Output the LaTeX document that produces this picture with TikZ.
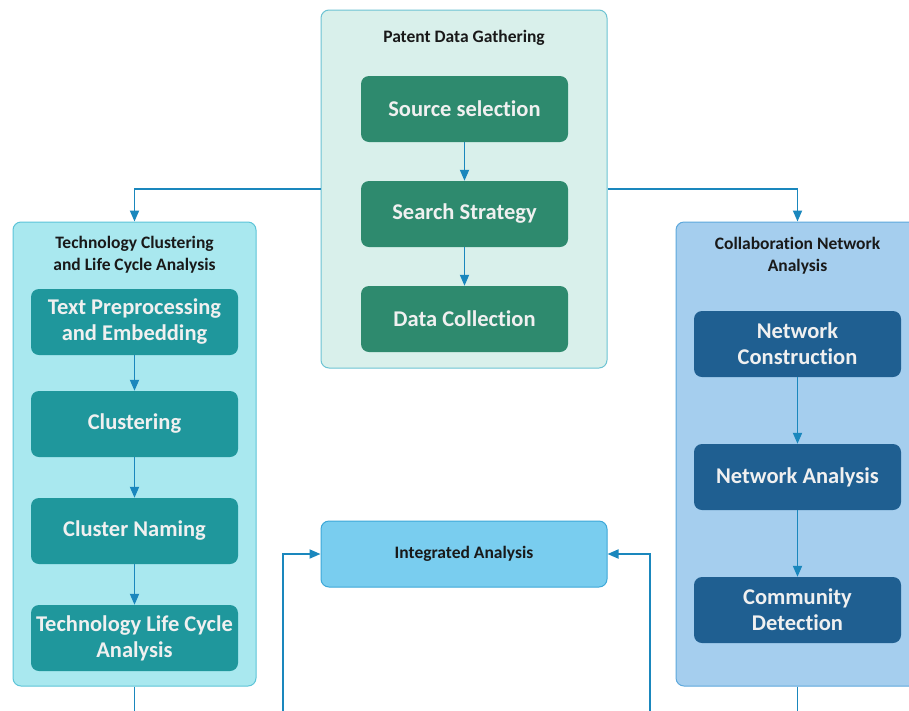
\documentclass[tikz,border=0pt]{standalone}
\usepackage{fontspec}
\setmainfont{Carlito}[Ligatures={NoCommon}]
\usetikzlibrary{arrows.meta}
\definecolor{gatherfill}{HTML}{D9F0EB}
\definecolor{gatherline}{HTML}{6CC3D3}
\definecolor{stepgreen}{HTML}{2E8A6E}
\definecolor{techfill}{HTML}{A9E8EF}
\definecolor{techline}{HTML}{5CC4D8}
\definecolor{stepteal}{HTML}{1F979C}
\definecolor{netfill}{HTML}{A5CEEE}
\definecolor{netline}{HTML}{5DA8DC}
\definecolor{stepnavy}{HTML}{1F5F91}
\definecolor{integfill}{HTML}{79CDEF}
\definecolor{integline}{HTML}{3DA8D8}
\definecolor{flow}{HTML}{1A87BD}
\tikzset{
  stage/.style={draw, line width=1pt, rounded corners=8pt, minimum width=#1, inner sep=0pt},
  stepbox/.style={rounded corners=8pt, minimum width=207pt, minimum height=66pt, inner sep=0pt,
    text=white!94!black, align=center, font=\fontsize{22.5}{26}\selectfont\bfseries},
  heading/.style={align=center, text=black!90, font=\fontsize{17.5}{22}\selectfont\bfseries},
  flowarrow/.style={draw=flow, line width=1.8pt, -{Triangle[length=11pt,width=9pt]}},
  flowline/.style={draw=flow, line width=1.8pt}
}
\begin{document}
\begin{tikzpicture}[x=1pt, y=-1pt]
  \clip (0,0) rectangle (909,710);
  \fill[white] (0,0) rectangle (909,710);
  % containers
  \node[stage=286pt, fill=gatherfill, draw=gatherline, minimum height=358pt] (gather) at (464,189) {};
  \node[stage=243pt, fill=techfill, draw=techline, minimum height=464pt] (techbox) at (134.5,454) {};
  \node[stage=243pt, fill=netfill, draw=netline, minimum height=464pt] (netbox) at (797.5,454) {};
  \node[stage=286pt, fill=integfill, draw=integline, minimum height=66pt, heading] (integ) at (464,554) {Integrated Analysis};
  % headings
  \node[heading] (gatherhead) at (464,38) {Patent Data Gathering};
  \node[heading] (techhead) at (134.5,255) {Technology Clustering\\and Life Cycle Analysis};
  \node[heading] (nethead) at (797.5,256) {Collaboration Network\\Analysis};
  % gathering steps
  \node[stepbox, fill=stepgreen] (source) at (464.5,109) {Source selection};
  \node[stepbox, fill=stepgreen] (search) at (464.5,214) {Search Strategy};
  \node[stepbox, fill=stepgreen] (collect) at (464.5,319) {Data Collection};
  % clustering steps
  \node[stepbox, fill=stepteal] (prep) at (134.5,322) {Text Preprocessing\\and Embedding};
  \node[stepbox, fill=stepteal] (clust) at (134.5,424) {Clustering};
  \node[stepbox, fill=stepteal] (naming) at (134.5,531) {Cluster Naming};
  \node[stepbox, fill=stepteal] (life) at (134.5,638) {Technology Life Cycle\\Analysis};
  % network steps
  \node[stepbox, fill=stepnavy] (build) at (797.5,344) {Network\\Construction};
  \node[stepbox, fill=stepnavy] (netana) at (797.5,477) {Network Analysis};
  \node[stepbox, fill=stepnavy] (commu) at (797.5,610) {Community\\Detection};
  % loose ends at the bottom edge
  \coordinate (techend) at (134.5,712);
  \coordinate (netend) at (797.5,712);
  \coordinate (leftin) at (283,712);
  \coordinate (rightin) at (650,712);
  % connectors
  \draw[flowarrow] (source) -- (search);
  \draw[flowarrow] (search) -- (collect);
  \draw[flowarrow] (prep) -- (clust);
  \draw[flowarrow] (clust) -- (naming);
  \draw[flowarrow] (naming) -- (life);
  \draw[flowarrow] (build) -- (netana);
  \draw[flowarrow] (netana) -- (commu);
  \draw[flowarrow] (gather.west) -| (techbox.north);
  \draw[flowarrow] (gather.east) -| (netbox.north);
  \draw[flowline] (techbox.south) -- (techend);
  \draw[flowline] (netbox.south) -- (netend);
  \draw[flowarrow] (leftin) |- (integ.west);
  \draw[flowarrow] (rightin) |- (integ.east);
\end{tikzpicture}
\end{document}
